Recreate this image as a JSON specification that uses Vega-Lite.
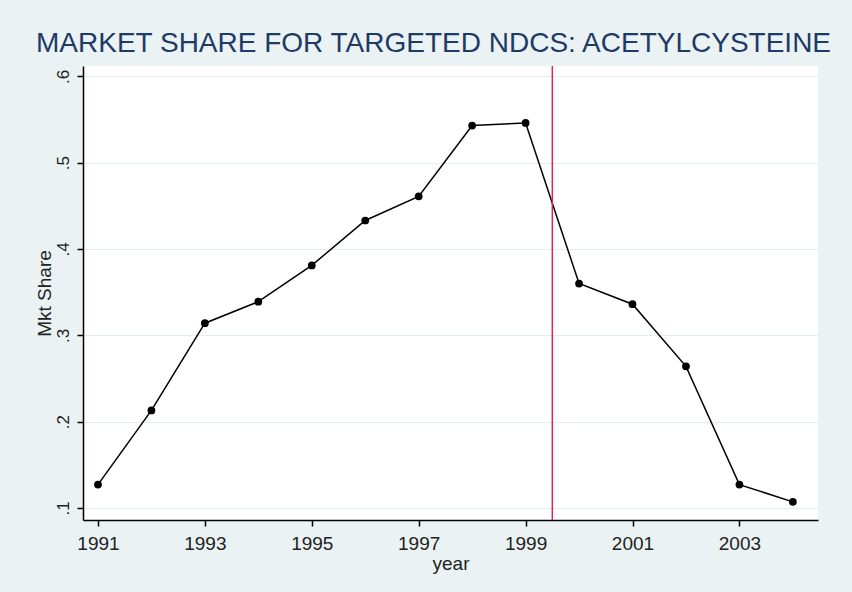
{
  "$schema": "https://vega.github.io/schema/vega-lite/v6.json",
  "autosize": "none",
  "width": 735,
  "height": 454,
  "padding": {"left": 83, "top": 66, "right": 34, "bottom": 72},
  "background": "#EAF2F3",
  "title": {
    "text": "MARKET SHARE FOR TARGETED NDCS: ACETYLCYSTEINE",
    "anchor": "start",
    "frame": "group",
    "dx": -47,
    "offset": 7,
    "font": "Liberation Sans",
    "fontSize": 28,
    "fontWeight": "normal",
    "color": "#1E3A66"
  },
  "config": {
    "view": {"fill": "white", "stroke": null},
    "font": "Liberation Sans",
    "axis": {
      "domainColor": "black",
      "tickColor": "black",
      "labelColor": "#222222",
      "titleColor": "#222222",
      "labelFont": "Liberation Sans",
      "titleFont": "Liberation Sans",
      "titleFontWeight": "normal",
      "labelFontSize": 19,
      "titleFontSize": 19,
      "tickSize": 6,
      "domainWidth": 1.5,
      "tickWidth": 1.5
    }
  },
  "data": {
    "values": [
      {"year": 1991, "share": 0.127},
      {"year": 1992, "share": 0.213},
      {"year": 1993, "share": 0.314},
      {"year": 1994, "share": 0.339},
      {"year": 1995, "share": 0.381},
      {"year": 1996, "share": 0.433},
      {"year": 1997, "share": 0.461},
      {"year": 1998, "share": 0.543},
      {"year": 1999, "share": 0.546},
      {"year": 2000, "share": 0.360},
      {"year": 2001, "share": 0.336},
      {"year": 2002, "share": 0.264},
      {"year": 2003, "share": 0.127},
      {"year": 2004, "share": 0.107}
    ]
  },
  "layer": [
    {
      "mark": {"type": "line", "color": "black", "strokeWidth": 1.5},
      "encoding": {
        "x": {
          "field": "year", "type": "quantitative",
          "scale": {"domain": [1990.72, 2004.47], "nice": false, "zero": false},
          "axis": {
            "values": [1991, 1993, 1995, 1997, 1999, 2001, 2003],
            "format": "d",
            "grid": false,
            "title": "year",
            "labelPadding": 8,
            "titlePadding": 1
          }
        },
        "y": {
          "field": "share", "type": "quantitative",
          "scale": {"domain": [0.086, 0.612], "nice": false, "zero": false},
          "axis": {
            "values": [0.1, 0.2, 0.3, 0.4, 0.5, 0.6],
            "labelExpr": "replace(format(datum.value, '.1f'), '0.', '.')",
            "labelAngle": -90,
            "labelFontSize": 17,
            "labelPadding": 5,
            "grid": true,
            "gridColor": "#E3EEF0",
            "gridWidth": 1.2,
            "title": "Mkt Share",
            "titleAngle": -90,
            "titleX": -39,
            "titleY": 227,
            "titleAlign": "center",
            "titleBaseline": "middle"
          }
        }
      }
    },
    {
      "mark": {"type": "point", "filled": true, "color": "black", "opacity": 1, "size": 60},
      "encoding": {
        "x": {"field": "year", "type": "quantitative"},
        "y": {"field": "share", "type": "quantitative"}
      }
    },
    {
      "data": {"values": [{"cut": 1999.5}]},
      "mark": {"type": "rule", "color": "#D0285A", "strokeWidth": 1.5},
      "encoding": {
        "x": {"field": "cut", "type": "quantitative"}
      }
    }
  ]
}
